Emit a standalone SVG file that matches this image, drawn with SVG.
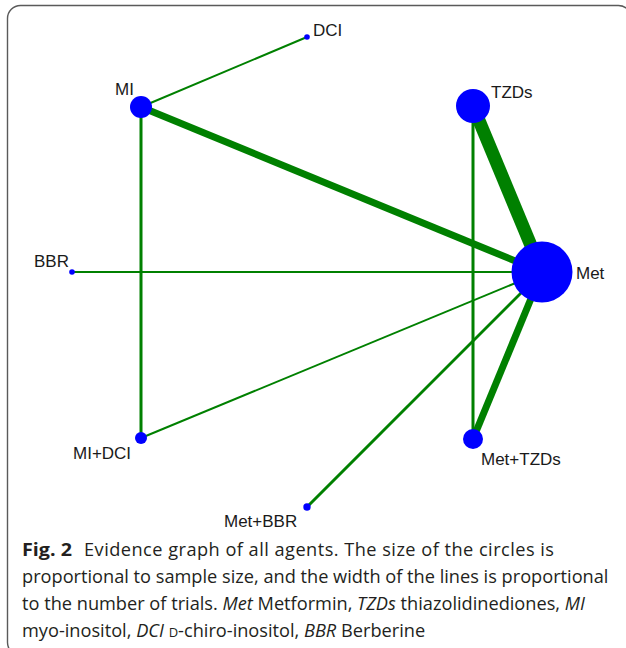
<svg xmlns="http://www.w3.org/2000/svg" width="626" height="648" viewBox="0 0 626 648">
<style>
.e{stroke:#008000;stroke-linecap:butt;fill:none}
.n{fill:#0000ff}
.l{font-family:"Liberation Sans",Arial,sans-serif;font-size:17px;fill:#1a1a1a}
.c{font-family:"Open Sans","Noto Sans",sans-serif;font-size:18.2px;fill:#231f20}
</style>
<rect x="7.5" y="5.5" width="624" height="650" rx="13" fill="#fff" stroke="#5a5a5a" stroke-width="1.4"/>
<g id="edges">
<line class="e" x1="141" y1="107" x2="307" y2="37" stroke-width="2"/>
<line class="e" x1="141" y1="107" x2="542" y2="272" stroke-width="7"/>
<line class="e" x1="141" y1="107" x2="141" y2="438" stroke-width="3"/>
<line class="e" x1="473" y1="106" x2="542" y2="272" stroke-width="13"/>
<line class="e" x1="473" y1="106" x2="473" y2="439" stroke-width="3"/>
<line class="e" x1="72" y1="272" x2="542" y2="272" stroke-width="2"/>
<line class="e" x1="141" y1="438" x2="542" y2="272" stroke-width="2"/>
<line class="e" x1="307" y1="507" x2="542" y2="272" stroke-width="3"/>
<line class="e" x1="473" y1="439" x2="542" y2="272" stroke-width="7"/>
</g>
<g id="DCI"><circle class="n" cx="307" cy="37" r="2.8"/><text class="l" x="313" y="36">DCI</text></g>
<g id="MI"><circle class="n" cx="141" cy="107" r="11"/><text class="l" x="115" y="95">MI</text></g>
<g id="TZDs"><circle class="n" cx="473" cy="106" r="17"/><text class="l" x="491" y="98">TZDs</text></g>
<g id="BBR"><circle class="n" cx="72" cy="272" r="2.8"/><text class="l" x="69" y="267" text-anchor="end">BBR</text></g>
<g id="Met"><circle class="n" cx="542" cy="272" r="30.5"/><text class="l" x="576" y="279">Met</text></g>
<g id="MI_DCI"><circle class="n" cx="141" cy="438" r="6"/><text class="l" x="73" y="459">MI+DCI</text></g>
<g id="Met_TZDs"><circle class="n" cx="473" cy="439" r="10"/><text class="l" x="481" y="465">Met+TZDs</text></g>
<g id="Met_BBR"><circle class="n" cx="307" cy="507" r="3.7"/><text class="l" x="224" y="527">Met+BBR</text></g>
<g id="caption">
<text class="c" x="22" y="556"><tspan font-weight="bold" textLength="50" lengthAdjust="spacingAndGlyphs">Fig. 2</tspan><tspan x="84" textLength="470" lengthAdjust="spacing">Evidence graph of all agents. The size of the circles is</tspan></text>
<text class="c" x="22" y="583">proportional to sample size, and the width of the lines is proportional</text>
<text class="c" x="22" y="610">to the number of trials. <tspan font-style="italic">Met</tspan> Metformin, <tspan font-style="italic">TZDs</tspan> thiazolidinediones, <tspan font-style="italic">MI</tspan></text>
<text class="c" x="22" y="637">myo-inositol, <tspan font-style="italic">DCI</tspan> <tspan font-size="13">D</tspan>-chiro-inositol, <tspan font-style="italic">BBR</tspan> Berberine</text>
</g>
</svg>
